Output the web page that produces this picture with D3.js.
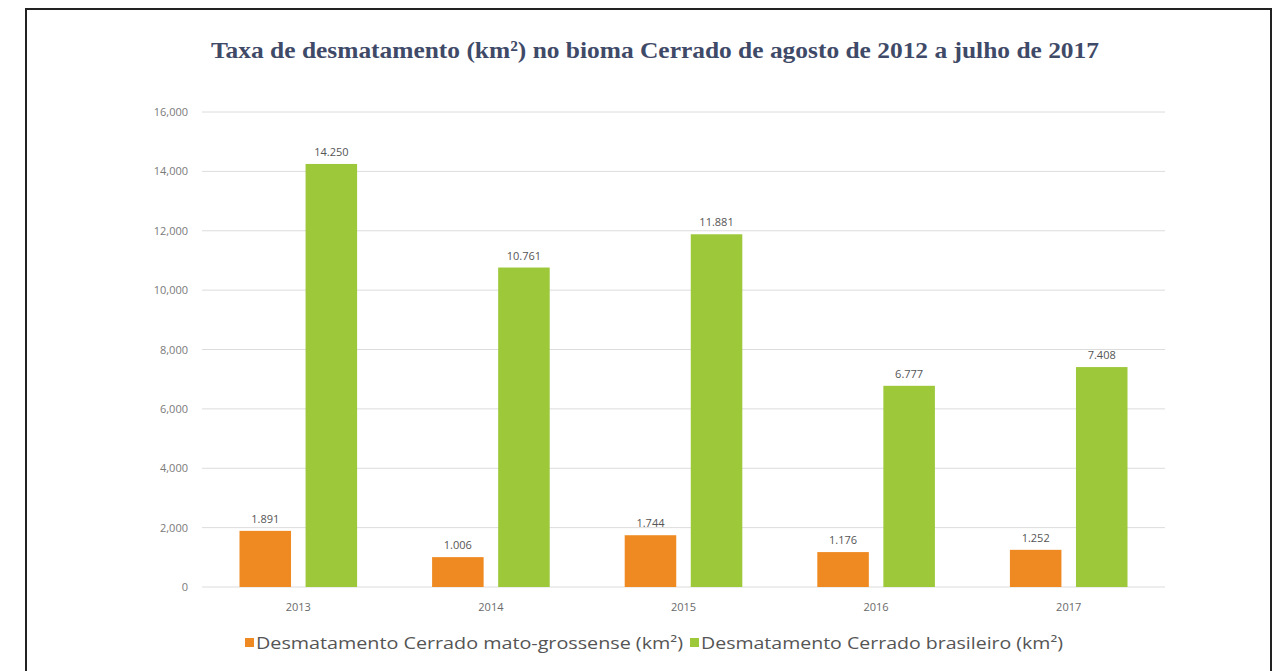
<!DOCTYPE html>
<html>
<head>
<meta charset="utf-8">
<script src="https://cdn.jsdelivr.net/npm/d3@7"></script>
<style>
  body { margin: 0; background: #fff; }
</style>
</head>
<body>
<div id="chart"></div>
<script>
// data
const years = ["2013", "2014", "2015", "2016", "2017"];
const seriesNames = [
  "Desmatamento Cerrado mato-grossense (km²)",
  "Desmatamento Cerrado brasileiro (km²)"
];
const matoGrossense = [1891, 1006, 1744, 1176, 1252];
const brasileiro = [14250, 10761, 11881, 6777, 7408];
const yTicks = [0, 2000, 4000, 6000, 8000, 10000, 12000, 14000, 16000];
const colors = ["#ef8a22", "#9cc83a"];

const W = 1279, H = 671;
const svg = d3.select("#chart").append("svg")
  .attr("width", W).attr("height", H);

svg.append("rect").attr("width", W).attr("height", H).attr("fill", "#fff");

// frame
svg.append("path")
  .attr("d", `M26,${H + 5}V9H1271V${H + 5}`)
  .attr("fill", "none").attr("stroke", "#222").attr("stroke-width", 2);

// title
svg.append("text")
  .attr("x", 655).attr("y", 58)
  .attr("text-anchor", "middle")
  .attr("font-family", "'Liberation Serif', 'DejaVu Serif', serif")
  .attr("font-weight", "bold")
  .attr("font-size", 24)
  .attr("fill", "#3f4a68")
  .attr("textLength", 888)
  .attr("lengthAdjust", "spacingAndGlyphs")
  .text("Taxa de desmatamento (km²) no bioma Cerrado de agosto de 2012 a julho de 2017");

const x0 = d3.scaleBand().domain(years).range([202, 1165]);
const x1 = d3.scaleBand().domain([0, 1])
  .range([37.5, x0.bandwidth() - 37.5]).paddingInner(0.22);
const y = d3.scaleLinear().domain([0, 16000]).range([587, 112]);

// grid
svg.append("g").selectAll("line")
  .data(yTicks).enter().append("line")
  .attr("x1", 202).attr("x2", 1165)
  .attr("y1", d => y(d)).attr("y2", d => y(d))
  .attr("stroke", "#dcdcdc").attr("stroke-width", 1);

// y labels
const fmtAxis = d3.format(",");
svg.append("g").selectAll("text")
  .data(yTicks).enter().append("text")
  .attr("x", 188).attr("y", d => y(d) + 4)
  .attr("text-anchor", "end")
  .attr("font-family", "'Open Sans', sans-serif")
  .attr("font-size", 11)
  .attr("fill", "#7a7a7a")
  .text(d => fmtAxis(d));

// x labels
svg.append("g").selectAll("text")
  .data(years).enter().append("text")
  .attr("x", d => x0(d) + x0.bandwidth() / 2)
  .attr("y", 611)
  .attr("text-anchor", "middle")
  .attr("font-family", "'Open Sans', sans-serif")
  .attr("font-size", 11)
  .attr("fill", "#6a6a6a")
  .text(d => d);

// bars
const series = [matoGrossense, brasileiro];
const fmtLabel = v => d3.format(",")(v).replace(",", ".");

series.forEach((vals, s) => {
  const g = svg.append("g");
  g.selectAll("rect")
    .data(vals).enter().append("rect")
    .attr("x", (d, i) => x0(years[i]) + x1(s))
    .attr("y", d => y(d))
    .attr("width", x1.bandwidth())
    .attr("height", d => y(0) - y(d))
    .attr("fill", colors[s]);
  g.selectAll("text")
    .data(vals).enter().append("text")
    .attr("x", (d, i) => x0(years[i]) + x1(s) + x1.bandwidth() / 2)
    .attr("y", d => y(d) - 8)
    .attr("text-anchor", "middle")
    .attr("font-family", "'Open Sans', sans-serif")
    .attr("font-size", 11)
    .attr("fill", "#555")
    .text(d => fmtLabel(d));
});

// legend (text widths matched to the reference)
const legendWidths = [427, 362];
const legend = svg.append("g").attr("transform", "translate(245,643)");
let lx = 0;
seriesNames.forEach((name, s) => {
  legend.append("rect")
    .attr("x", lx).attr("y", -5).attr("width", 9).attr("height", 9)
    .attr("fill", colors[s]);
  legend.append("text")
    .attr("x", lx + 11).attr("y", 6)
    .attr("font-family", "'Open Sans', sans-serif")
    .attr("font-size", 16)
    .attr("fill", "#555")
    .attr("textLength", legendWidths[s])
    .attr("lengthAdjust", "spacingAndGlyphs")
    .text(name);
  lx += 11 + legendWidths[s] + 7;
});
</script>
</body>
</html>
